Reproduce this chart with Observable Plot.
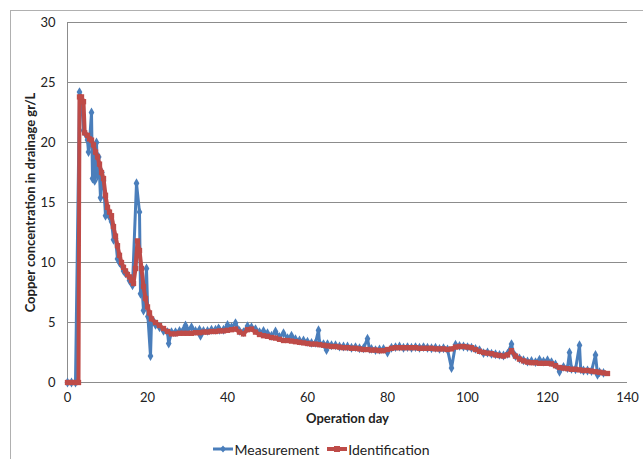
<!DOCTYPE html>
<html>
<head>
<meta charset="utf-8">
<script src="https://cdn.jsdelivr.net/npm/d3@7"></script>
<script src="https://cdn.jsdelivr.net/npm/@observablehq/plot@0.6"></script>
<style>
  html, body { margin: 0; padding: 0; background: #fff; overflow: hidden; width: 643px; height: 459px; }
  #frame { position: absolute; left: 10px; top: 10px; width: 700px; height: 520px; border-left: 1px solid #b0b0b0; border-top: 1px solid #b0b0b0; }
  #chart { position: absolute; left: 0; top: 0; }
  #legend { position: absolute; left: 0; top: 438px; width: 643px; height: 22px; display: flex; justify-content: center; align-items: center; font: 14px Lato, "Open Sans", sans-serif; color: #222; }
  .item { display: flex; align-items: center; margin: 0 4px; }
  .item svg { margin-right: 1px; }
</style>
</head>
<body>
<div id="frame"></div>
<div id="chart"></div>
<div id="legend"></div>
<script>
// Series (day, copper concentration gr/L)
const measurement = [
  [0,0],[1,0],[2,0],[3,24.2],[3.5,23.6],[4,21.0],[4.5,20.7],[5,20.2],[5.25,19.2],[5.6,20.5],[6,22.5],[6.25,17.0],[6.5,19.5],[6.8,16.8],[7.25,20.0],[7.5,17.2],[7.8,18.8],[8.25,15.4],[8.6,17.5],[9,16.8],[9.5,13.9],[10,14.1],[10.5,13.8],[11,13.4],[11.5,11.9],[12,12.0],[12.5,10.3],[13,10.0],[13.5,9.8],[14,9.3],[14.5,9.1],[15,9.0],[15.5,8.5],[16,8.3],[16.25,8.1],[17.25,16.6],[18,14.2],[18.25,7.4],[18.6,8.0],[19,6.0],[19.3,7.2],[19.75,9.5],[20.1,5.5],[20.75,2.2],[21,5.0],[21.5,5.1],[22,4.8],[23,4.6],[24,4.3],[25,4.2],[25.3,3.25],[26,4.2],[27,4.2],[28,4.3],[29,4.4],[29.5,4.75],[30,4.4],[31,4.6],[32,4.3],[33,4.4],[33.25,3.9],[34,4.3],[35,4.3],[36,4.4],[37,4.4],[37.75,4.5],[38,4.4],[39,4.4],[40,4.8],[41,4.6],[42,4.95],[43,4.3],[44,4.2],[45,4.7],[46,4.6],[47,4.45],[48,4.2],[49,4.3],[50,4.1],[51,3.9],[52,4.25],[53,3.8],[54,4.1],[55,3.7],[56,3.9],[57,3.6],[58,3.5],[59,3.5],[60,3.4],[61,3.3],[62,3.3],[62.75,4.35],[63,3.3],[64,3.2],[64.75,2.7],[65,3.2],[66,3.1],[67,3.1],[68,3.0],[69,3.0],[70,3.0],[71,2.9],[72,2.95],[73,2.85],[74,2.85],[75,3.65],[75.5,2.8],[76,2.8],[77,2.7],[78,2.75],[79,2.8],[80,2.5],[81,2.9],[82,2.95],[83,3.0],[84,2.9],[85,2.95],[86,2.9],[87,2.95],[88,2.9],[89,2.95],[90,2.9],[91,2.85],[92,2.9],[93,2.8],[94,2.85],[95,2.75],[96,1.2],[97,3.15],[98,3.05],[99,3.0],[100,2.95],[101,2.9],[102,2.8],[103,2.7],[104,2.45],[105,2.5],[106,2.4],[107,2.35],[108,2.3],[109,2.25],[110,2.4],[111,3.2],[111.5,2.4],[112,2.2],[113,2.0],[114,1.85],[115,1.75],[116,1.8],[117,1.7],[118,1.9],[119,1.75],[120,1.85],[121,1.7],[122,1.5],[123,0.9],[124,1.3],[125,1.2],[125.5,2.5],[126,1.15],[127,1.1],[128,3.1],[128.3,1.1],[129,1.0],[130,1.0],[131,0.95],[132,2.3],[132.5,0.65],[133,0.85],[134,0.8]
];
const identification = [
  [0,0],[1,0],[2,0],[2.75,0],[3,23.8],[3.5,23.8],[4,23.4],[4.3,20.8],[5,20.6],[5.5,20.3],[6,20.2],[6.5,19.8],[7,19.2],[7.5,18.8],[8,18.2],[8.5,17.5],[9,17.0],[9.5,15.6],[10,14.6],[10.5,14.2],[11,13.9],[11.5,13.0],[12,12.2],[12.5,11.4],[13,10.6],[13.5,10.0],[14,9.6],[14.5,9.3],[15,9.0],[15.5,8.8],[16,8.5],[16.5,8.25],[17,9.5],[17.5,11.8],[18,11.0],[18.5,9.5],[19,8.0],[19.5,7.0],[20,6.3],[20.5,5.8],[21,5.3],[22,5.0],[23,4.75],[24,4.5],[25,4.25],[26,4.05],[27,4.05],[28,4.1],[29,4.1],[30,4.1],[31,4.1],[32,4.15],[33,4.15],[34,4.2],[35,4.2],[36,4.25],[37,4.25],[38,4.3],[39,4.3],[40,4.35],[41,4.4],[42,4.45],[43,4.2],[44,4.05],[45,4.4],[46,4.45],[47,4.2],[48,4.0],[49,3.9],[50,3.85],[51,3.75],[52,3.7],[53,3.6],[54,3.5],[55,3.5],[56,3.45],[57,3.4],[58,3.35],[59,3.3],[60,3.25],[61,3.2],[62,3.2],[63,3.15],[64,3.1],[65,3.05],[66,3.0],[67,3.0],[68,2.95],[69,2.9],[70,2.9],[71,2.85],[72,2.85],[73,2.8],[74,2.75],[75,2.75],[76,2.7],[77,2.7],[78,2.65],[79,2.65],[80,2.75],[81,2.85],[82,2.9],[83,2.9],[84,2.9],[85,2.9],[86,2.9],[87,2.9],[88,2.85],[89,2.85],[90,2.85],[91,2.85],[92,2.8],[93,2.8],[94,2.8],[95,2.75],[96,2.8],[97,2.95],[98,3.0],[99,3.0],[100,2.95],[101,2.9],[102,2.75],[103,2.6],[104,2.5],[105,2.45],[106,2.4],[107,2.3],[108,2.25],[109,2.2],[110,2.3],[111,2.65],[112,2.2],[113,1.95],[114,1.8],[115,1.7],[116,1.65],[117,1.65],[118,1.6],[119,1.6],[120,1.6],[121,1.55],[122,1.4],[123,1.25],[124,1.2],[125,1.15],[126,1.1],[127,1.1],[128,1.05],[129,1.0],[130,1.0],[131,0.95],[132,0.9],[133,0.85],[134,0.8],[135,0.75]
];
const xTicks = [0, 20, 40, 60, 80, 100, 120, 140];
const yTicks = [0, 5, 10, 15, 20, 25, 30];
const seriesNames = ["Measurement", "Identification"];
const seriesColors = ["#4a7ebb", "#be4b48"];

const font = "Lato, 'Open Sans', sans-serif";

const chart = Plot.plot({
  width: 643,
  height: 438,
  marginLeft: 67,
  marginRight: 16,
  marginTop: 22,
  marginBottom: 56,
  style: { fontFamily: font, fontSize: "13px", color: "#222", background: "transparent" },
  x: { domain: [0, 140] },
  y: { domain: [0, 30] },
  marks: [
    Plot.gridY(yTicks.filter(d => d > 0), { stroke: "#8c8c8c", strokeOpacity: 1, strokeWidth: 1 }),
    Plot.ruleY([0], { stroke: "#8c8c8c", strokeWidth: 1 }),
    Plot.ruleX([0], { stroke: "#8c8c8c", strokeWidth: 1 }),
    Plot.axisX({ ticks: xTicks, tickSize: 0, tickPadding: 10, fontSize: 13,
      label: "Operation day", labelAnchor: "center", labelArrow: "none", labelOffset: 40 }),
    Plot.axisY({ ticks: yTicks, tickSize: 0, tickPadding: 12, fontSize: 13,
      label: "Copper concentration in drainage gr/L", labelAnchor: "center", labelArrow: "none", labelOffset: 42 }),
    Plot.line(measurement, { x: d => d[0], y: d => d[1], stroke: seriesColors[0], strokeWidth: 3 }),
    Plot.dot(measurement, { x: d => d[0], y: d => d[1], symbol: "diamond", r: 3, fill: seriesColors[0], stroke: "none" }),
    Plot.line(identification, { x: d => d[0], y: d => d[1], stroke: seriesColors[1], strokeWidth: 4 }),
    Plot.dot(identification, { x: d => d[0], y: d => d[1], symbol: "square", r: 3, fill: seriesColors[1], stroke: "none" })
  ]
});
document.getElementById("chart").appendChild(chart);

// bold axis titles
chart.querySelectorAll("[aria-label='x-axis label'] text, [aria-label='y-axis label'] text").forEach(t => {
  t.setAttribute("font-weight", "bold");
  t.setAttribute("font-size", "13");
});

// legend
const legend = document.getElementById("legend");
seriesNames.forEach((name, i) => {
  const item = document.createElement("div");
  item.className = "item";
  const marker = i === 0
    ? `<path d="M10,3.5 L13,7 L10,10.5 L7,7 Z" fill="${seriesColors[i]}"/>`
    : `<rect x="7" y="4" width="6" height="6" fill="${seriesColors[i]}"/>`;
  item.innerHTML = `<svg width="20" height="14"><line x1="0" y1="7" x2="20" y2="7" stroke="${seriesColors[i]}" stroke-width="${i === 0 ? 3 : 4}"/>${marker}</svg><span>${name}</span>`;
  legend.appendChild(item);
});
</script>
</body>
</html>
